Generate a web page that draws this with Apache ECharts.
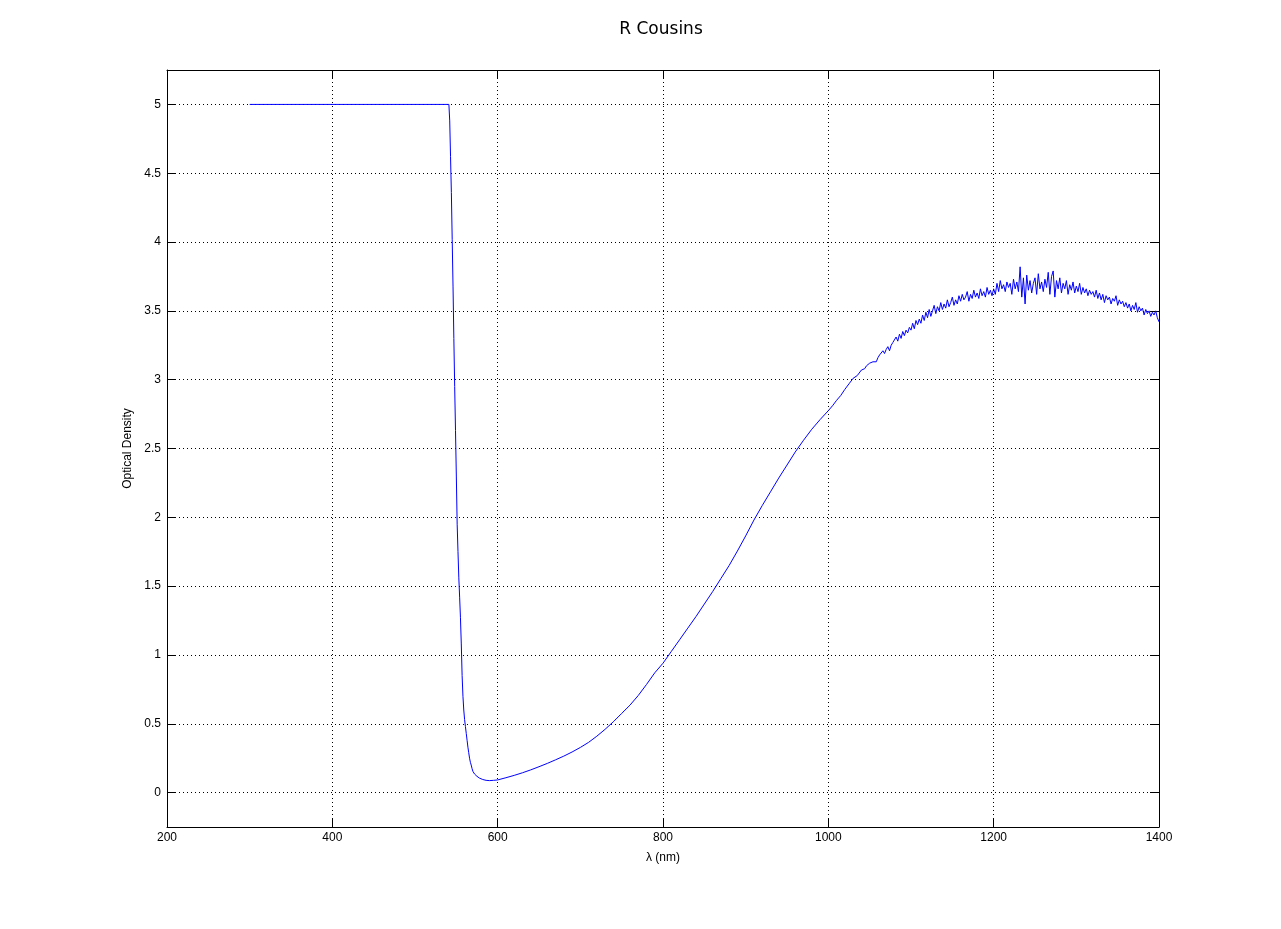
<!DOCTYPE html>
<html>
<head>
<meta charset="utf-8">
<script src="https://cdn.jsdelivr.net/npm/echarts@6/dist/echarts.min.js"></script>
<style>
html,body{margin:0;padding:0;background:#fff;}
#chart{width:1281px;height:929px;}
</style>
</head>
<body>
<div id="chart"></div>
<script>
const titleText = 'R Cousins';
const xName = 'λ (nm)';
const yName = 'Optical Density';
const xTicks = [200, 400, 600, 800, 1000, 1200, 1400];
const yTicks = [0, 0.5, 1, 1.5, 2, 2.5, 3, 3.5, 4, 4.5, 5];

// smooth part of the curve (nm)
const wlSmooth = [300, 541, 542, 543, 544, 545, 546, 547, 548, 549, 550, 551, 552, 553, 554, 555, 556, 557, 558, 559, 560,
  561, 562, 563, 564, 565, 566, 567, 568, 569, 570, 572, 575, 578, 582, 586, 590, 595, 600,
  610, 620, 630, 640, 650, 660, 670, 680, 690, 700, 710, 720, 730, 740, 750, 760, 770, 780, 790,
  800, 810, 820, 830, 840, 850, 860, 870, 880, 890, 900, 910, 920, 930, 940, 950, 960, 970, 980, 990,
  1000, 1005, 1010, 1015, 1020, 1025, 1030, 1035];
const odSmooth = [5.0, 5.0, 4.88, 4.62, 4.36, 4.02, 3.68, 3.3, 2.95, 2.63, 2.3, 1.95, 1.75, 1.56, 1.42, 1.27, 1.08, 0.85, 0.7, 0.6, 0.53,
  0.48, 0.43, 0.38, 0.33, 0.29, 0.25, 0.22, 0.2, 0.175, 0.155, 0.135, 0.118, 0.105, 0.095, 0.089, 0.087, 0.089, 0.092,
  0.108, 0.125, 0.144, 0.165, 0.188, 0.212, 0.238, 0.265, 0.295, 0.328, 0.365, 0.41, 0.46, 0.515, 0.575, 0.635, 0.705, 0.785, 0.87,
  0.94, 1.025, 1.11, 1.195, 1.28, 1.37, 1.46, 1.555, 1.65, 1.755, 1.865, 1.98, 2.085, 2.185, 2.285, 2.38, 2.475, 2.56, 2.64, 2.71,
  2.775, 2.81, 2.85, 2.885, 2.93, 2.97, 3.01, 3.03];

// noisy part of the curve (nm)
const wlNoisy = [
  1040, 1042, 1044, 1046, 1048, 1050, 1052, 1054, 1056, 1058,
  1060, 1062, 1064, 1066, 1068, 1070, 1072, 1074, 1076, 1078,
  1080, 1082, 1084, 1086, 1088, 1090, 1092, 1094, 1096, 1098,
  1100, 1102, 1104, 1106, 1108, 1110, 1112, 1114, 1116, 1118,
  1120, 1122, 1124, 1126, 1128, 1130, 1132, 1134, 1136, 1138,
  1140, 1142, 1144, 1146, 1148, 1150, 1152, 1154, 1156, 1158,
  1160, 1162, 1164, 1166, 1168, 1170, 1172, 1174, 1176, 1178,
  1180, 1182, 1184, 1186, 1188, 1190, 1192, 1194, 1196, 1198,
  1200, 1202, 1204, 1206, 1208, 1210, 1212, 1214, 1216, 1218,
  1220, 1222, 1224, 1226, 1228, 1230, 1232, 1234, 1236, 1238,
  1240, 1242, 1244, 1246, 1248, 1250, 1252, 1254, 1256, 1258,
  1260, 1262, 1264, 1266, 1268, 1270, 1272, 1274, 1276, 1278,
  1280, 1282, 1284, 1286, 1288, 1290, 1292, 1294, 1296, 1298,
  1300, 1302, 1304, 1306, 1308, 1310, 1312, 1314, 1316, 1318,
  1320, 1322, 1324, 1326, 1328, 1330, 1332, 1334, 1336, 1338,
  1340, 1342, 1344, 1346, 1348, 1350, 1352, 1354, 1356, 1358,
  1360, 1362, 1364, 1366, 1368, 1370, 1372, 1374, 1376, 1378,
  1380, 1382, 1384, 1386, 1388, 1390, 1392, 1394, 1396, 1398,
  1400];
const odNoisy = [
  3.07, 3.08, 3.08, 3.10, 3.09, 3.12, 3.11, 3.13, 3.14, 3.13,
  3.16, 3.18, 3.17, 3.21, 3.19, 3.22, 3.24, 3.21, 3.25, 3.27,
  3.26, 3.31, 3.28, 3.33, 3.30, 3.35, 3.32, 3.36, 3.34, 3.38,
  3.36, 3.41, 3.37, 3.43, 3.40, 3.44, 3.41, 3.47, 3.43, 3.49,
  3.45, 3.51, 3.46, 3.50, 3.54, 3.48, 3.53, 3.50, 3.56, 3.51,
  3.55, 3.52, 3.58, 3.53, 3.56, 3.60, 3.54, 3.58, 3.55, 3.61,
  3.57, 3.62, 3.58, 3.60, 3.64, 3.57, 3.62, 3.59, 3.65, 3.60,
  3.63, 3.59, 3.66, 3.61, 3.64, 3.60, 3.67, 3.62, 3.65, 3.61,
  3.66, 3.62, 3.70, 3.64, 3.72, 3.66, 3.69, 3.64, 3.71, 3.67,
  3.70, 3.62, 3.73, 3.66, 3.71, 3.64, 3.82, 3.60, 3.74, 3.55,
  3.76, 3.65, 3.72, 3.63, 3.70, 3.74, 3.62, 3.77, 3.66, 3.71,
  3.64, 3.73, 3.67, 3.78, 3.62, 3.75, 3.79, 3.60, 3.72, 3.66,
  3.74, 3.63, 3.70, 3.66, 3.72, 3.62, 3.69, 3.65, 3.71, 3.63,
  3.68, 3.64, 3.70, 3.62, 3.67, 3.63, 3.66, 3.61, 3.65, 3.62,
  3.64, 3.60, 3.65, 3.59, 3.63, 3.58, 3.62, 3.56, 3.61, 3.58,
  3.60, 3.55, 3.59, 3.57, 3.61, 3.54, 3.58, 3.55, 3.57, 3.53,
  3.56, 3.52, 3.55, 3.50, 3.54, 3.51, 3.56, 3.49, 3.53, 3.50,
  3.52, 3.47, 3.51, 3.48, 3.50, 3.46, 3.49, 3.47, 3.50, 3.45,
  3.42];

const wl = wlSmooth.concat(wlNoisy);
const od = odSmooth.concat(odNoisy);
const seriesData = wl.map((w, i) => [w, od[i]]);

const chart = echarts.init(document.getElementById('chart'), null, {renderer: 'canvas'});
const font = 'Liberation Sans, Arial, Helvetica, sans-serif';
const lineColor = '#000';
const tickLen = 9;

chart.setOption({
  animation: false,
  backgroundColor: '#fff',
  title: {
    text: titleText, left: 656, top: 16, textAlign: 'center',
    textStyle: {fontFamily: 'DejaVu Sans, sans-serif', fontSize: 17, fontWeight: 'normal', color: '#000'}
  },
  grid: {left: 167, right: 122, top: 70, bottom: 102, containLabel: false},
  xAxis: [{
    type: 'value', min: 200, max: 1400, interval: 200, position: 'bottom',
    name: xName, nameLocation: 'middle', nameGap: 25,
    nameTextStyle: {fontFamily: font, fontSize: 12, color: '#000'},
    axisLine: {show: true, onZero: false, lineStyle: {color: lineColor, width: 1}},
    axisTick: {show: true, inside: true, length: tickLen, lineStyle: {color: lineColor}},
    axisLabel: {show: true, margin: 5, fontFamily: font, fontSize: 12, color: '#000',
      customValues: xTicks, formatter: v => String(v)},
    splitLine: {show: true, lineStyle: {color: '#000', type: [1, 3], width: 1}}
  }, {
    type: 'value', min: 200, max: 1400, interval: 200, position: 'top',
    axisLine: {show: true, onZero: false, lineStyle: {color: lineColor, width: 1}},
    axisTick: {show: true, inside: true, length: tickLen, lineStyle: {color: lineColor}},
    axisLabel: {show: false},
    splitLine: {show: false}
  }],
  yAxis: [{
    type: 'value', min: -0.25, max: 5.25, position: 'left',
    name: yName, nameLocation: 'middle', nameGap: 28,
    nameTextStyle: {fontFamily: font, fontSize: 12, color: '#000'},
    axisLine: {show: true, onZero: false, lineStyle: {color: lineColor, width: 1}},
    axisTick: {show: true, inside: true, length: tickLen, lineStyle: {color: lineColor}, customValues: yTicks},
    axisLabel: {show: true, margin: 6, fontFamily: font, fontSize: 12, color: '#000', customValues: yTicks},
    splitLine: {show: true, lineStyle: {color: '#000', type: [1, 3], width: 1}}
  }, {
    type: 'value', min: -0.25, max: 5.25, position: 'right',
    axisLine: {show: true, onZero: false, lineStyle: {color: lineColor, width: 1}},
    axisTick: {show: true, inside: true, length: tickLen, lineStyle: {color: lineColor}, customValues: yTicks},
    axisLabel: {show: false},
    splitLine: {show: false}
  }],
  series: [{
    type: 'line', xAxisIndex: 0, yAxisIndex: 0,
    data: seriesData, showSymbol: false, symbol: 'none',
    lineStyle: {color: '#0000ff', width: 1},
    silent: true
  }]
});
</script>
</body>
</html>
